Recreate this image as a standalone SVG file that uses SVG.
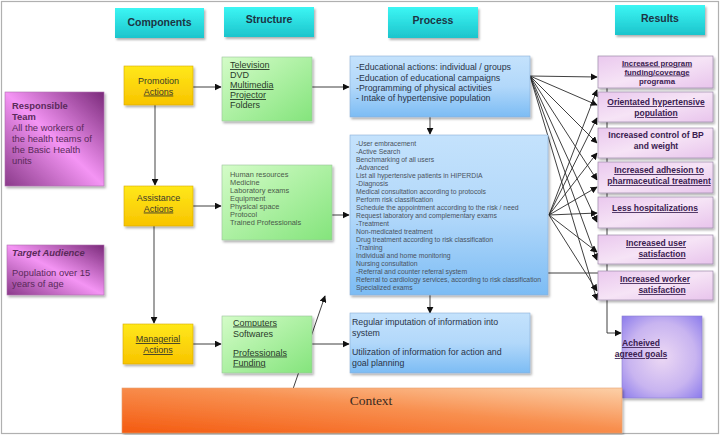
<svg xmlns="http://www.w3.org/2000/svg" width="721" height="435" viewBox="0 0 721 435">
<defs>
<style>
text{font-family:"Liberation Sans",Arial,sans-serif;}
text.ctx{font-family:"Liberation Serif","Times New Roman",serif;font-size:13.5px;fill:#3a2a20;text-anchor:middle;}
.hdr{font-size:10.5px;font-weight:bold;fill:#1c3444;text-anchor:middle;}
.cmp{font-size:9px;fill:#3a3a2a;text-anchor:middle;}
.str{font-size:9px;fill:#2a3a2a;}
.str2{font-size:7.4px;fill:#4a5a4a;}
.prc{font-size:8.8px;fill:#2a3448;}
.prc2{font-size:6.8px;fill:#4a5260;}
.res{font-size:8.5px;font-weight:bold;fill:#3a2050;text-anchor:middle;}
.res1{font-size:7.8px;}
.pink{font-size:9.4px;fill:#5a2a5a;}
.ul{text-decoration:underline;}
.conn{stroke:#2a2a2a;stroke-width:0.9;fill:none;}
.vconn{stroke:#8a8a8a;stroke-width:1.6;fill:none;}
</style>
<marker id="ah" viewBox="0 0 10 10" refX="9" refY="5" markerWidth="7" markerHeight="7" markerUnits="userSpaceOnUse" orient="auto">
<path d="M0,0 L10,5 L0,10 z" fill="#111"/>
</marker>
<filter id="sh" x="-10%" y="-10%" width="125%" height="130%">
<feDropShadow dx="1.5" dy="2" stdDeviation="1.2" flood-color="#000" flood-opacity="0.3"/>
</filter>
<linearGradient id="gCyan" x1="0" y1="0" x2="0" y2="1">
<stop offset="0" stop-color="#3cf6f4"/><stop offset="1" stop-color="#1cc4cc"/>
</linearGradient>
<linearGradient id="gYel" x1="0" y1="0" x2="0" y2="1">
<stop offset="0" stop-color="#ffe81a"/><stop offset="1" stop-color="#f8c400"/>
</linearGradient>
<linearGradient id="gGrn" x1="0" y1="0" x2="1" y2="1">
<stop offset="0" stop-color="#d4fcc8"/><stop offset="1" stop-color="#84e47c"/>
</linearGradient>
<linearGradient id="gBlu" x1="0" y1="0" x2="0" y2="1">
<stop offset="0" stop-color="#c4e2fc"/><stop offset="0.5" stop-color="#b2d8fa"/><stop offset="1" stop-color="#7cbcf4"/>
</linearGradient>
<linearGradient id="gPink" x1="1" y1="0" x2="0" y2="1">
<stop offset="0" stop-color="#7a2a7a"/><stop offset="0.5" stop-color="#f494f4"/><stop offset="1" stop-color="#8a3a8a"/>
</linearGradient>
<linearGradient id="gRes" x1="0" y1="0" x2="1" y2="1">
<stop offset="0" stop-color="#eac8ee"/><stop offset="0.5" stop-color="#f6e4f6"/><stop offset="1" stop-color="#e8c4ec"/>
</linearGradient>
<radialGradient id="gPur" cx="0.5" cy="0.5" r="0.7">
<stop offset="0" stop-color="#ecd8f4"/><stop offset="0.6" stop-color="#c8b4f0"/><stop offset="1" stop-color="#8c7cec"/>
</radialGradient>
<linearGradient id="gOr" x1="0" y1="1" x2="1" y2="0">
<stop offset="0" stop-color="#f45a10"/><stop offset="0.55" stop-color="#f89050"/><stop offset="1" stop-color="#fcd0a8"/>
</linearGradient>
</defs>

<rect x="1.5" y="1.5" width="717" height="432" fill="#fff" stroke="#b0b0b0" stroke-width="1.2"/>

<g id="connectors">
<line class="vconn" x1="155" y1="105" x2="155" y2="185" marker-end="url(#ah)"/>
<line class="vconn" x1="154" y1="226" x2="154" y2="323" marker-end="url(#ah)"/>
<line class="conn" x1="193" y1="87" x2="221" y2="87" marker-end="url(#ah)"/>
<line class="conn" x1="193" y1="206" x2="221" y2="206" marker-end="url(#ah)"/>
<line class="conn" x1="193" y1="344" x2="221" y2="344" marker-end="url(#ah)"/>
<line class="conn" x1="312" y1="87" x2="349" y2="87" marker-end="url(#ah)"/>
<line class="conn" x1="332" y1="215" x2="349" y2="215" marker-end="url(#ah)"/>
<line class="conn" x1="312" y1="344" x2="349" y2="344" marker-end="url(#ah)"/>
<line class="conn" x1="293" y1="389" x2="325" y2="296" marker-end="url(#ah)"/>
<line class="conn" x1="430" y1="117" x2="430" y2="134" marker-end="url(#ah)"/>
<line class="conn" x1="430" y1="295" x2="430" y2="313" marker-end="url(#ah)"/>
<line class="conn" x1="530" y1="76" x2="597" y2="77" marker-end="url(#ah)"/>
<line class="conn" x1="530" y1="76" x2="597" y2="105" marker-end="url(#ah)"/>
<line class="conn" x1="530" y1="76" x2="597" y2="143" marker-end="url(#ah)"/>
<line class="conn" x1="530" y1="76" x2="597" y2="180" marker-end="url(#ah)"/>
<line class="conn" x1="530" y1="76" x2="597" y2="222" marker-end="url(#ah)"/>
<line class="conn" x1="530" y1="76" x2="597" y2="260" marker-end="url(#ah)"/>
<line class="conn" x1="530" y1="76" x2="597" y2="300" marker-end="url(#ah)"/>
<line class="conn" x1="549" y1="215" x2="597" y2="90" marker-end="url(#ah)"/>
<line class="conn" x1="549" y1="215" x2="597" y2="118" marker-end="url(#ah)"/>
<line class="conn" x1="549" y1="215" x2="597" y2="153" marker-end="url(#ah)"/>
<line class="conn" x1="549" y1="215" x2="597" y2="187" marker-end="url(#ah)"/>
<line class="conn" x1="549" y1="215" x2="597" y2="213" marker-end="url(#ah)"/>
<line class="conn" x1="549" y1="215" x2="597" y2="252" marker-end="url(#ah)"/>
<line class="conn" x1="549" y1="215" x2="597" y2="291" marker-end="url(#ah)"/>
<line class="conn" x1="548" y1="273" x2="598" y2="273"/>
<polyline class="conn" points="607,88 607,333 621,333" marker-end="url(#ah)"/>
</g>

<g id="hdr-components"><rect x="115" y="8" width="89" height="30" fill="url(#gCyan)" filter="url(#sh)"/><text class="hdr" x="159.5" y="26">Components</text></g>
<g id="hdr-structure"><rect x="224" y="7" width="90" height="30" fill="url(#gCyan)" filter="url(#sh)"/><text class="hdr" x="269" y="23">Structure</text></g>
<g id="hdr-process"><rect x="388" y="7" width="90" height="31" fill="url(#gCyan)" filter="url(#sh)"/><text class="hdr" x="433" y="24">Process</text></g>
<g id="hdr-results"><rect x="615" y="5" width="90" height="30" fill="url(#gCyan)" filter="url(#sh)"/><text class="hdr" x="660" y="22">Results</text></g>

<g id="responsible-team">
<rect x="5" y="92" width="99" height="94" fill="url(#gPink)" stroke="#b070b0" stroke-width="0.6" filter="url(#sh)"/>
<text class="pink" x="12" y="109" font-weight="bold" fill="#3a1a3a">Responsible</text>
<text class="pink" x="12" y="120" font-weight="bold" fill="#3a1a3a">Team</text>
<text class="pink" x="12" y="131">All the workers of</text>
<text class="pink" x="12" y="142">the health teams of</text>
<text class="pink" x="12" y="153">the Basic Health</text>
<text class="pink" x="12" y="164">units</text>
</g>
<g id="target-audience">
<rect x="7" y="245" width="97" height="50" fill="url(#gPink)" stroke="#b070b0" stroke-width="0.6" filter="url(#sh)"/>
<text class="pink" x="12" y="256" font-weight="bold" font-style="italic" fill="#3a1a3a" font-size="8.8">Target Audience</text>
<text class="pink" x="12" y="276" font-size="8.8">Population over 15</text>
<text class="pink" x="12" y="287" font-size="8.8">years of age</text>
</g>

<g id="promotion">
<rect x="124" y="66" width="69" height="39" fill="url(#gYel)" stroke="#d8a800" stroke-width="0.6" filter="url(#sh)"/>
<text class="cmp" x="158.5" y="84">Promotion</text>
<text class="cmp ul" x="158.5" y="94.5">Actions</text>
</g>
<g id="assistance">
<rect x="124" y="186" width="69" height="40" fill="url(#gYel)" stroke="#d8a800" stroke-width="0.6" filter="url(#sh)"/>
<text class="cmp" x="158.5" y="201">Assistance</text>
<text class="cmp ul" x="158.5" y="211.5">Actions</text>
</g>
<g id="managerial">
<rect x="123" y="324" width="70" height="40" fill="url(#gYel)" stroke="#d8a800" stroke-width="0.6" filter="url(#sh)"/>
<text class="cmp ul" x="158" y="342">Managerial</text>
<text class="cmp ul" x="158" y="353">Actions</text>
</g>

<g id="structure-media">
<rect x="222" y="57" width="90" height="64" fill="url(#gGrn)" stroke="#9cc49c" stroke-width="0.6" filter="url(#sh)"/>
<text class="str ul" x="230" y="68" fill="#c04060"><tspan fill="#2a3a2a">Television</tspan></text>
<text class="str" x="230" y="78">DVD</text>
<text class="str ul" x="230" y="88" fill="#c04060"><tspan fill="#2a3a2a">Multimedia</tspan></text>
<text class="str ul" x="230" y="98" fill="#c04060"><tspan fill="#2a3a2a">Projector</tspan></text>
<text class="str" x="230" y="108">Folders</text>
</g>
<g id="structure-resources">
<rect x="222" y="165" width="110" height="75" fill="url(#gGrn)" stroke="#9cc49c" stroke-width="0.6" filter="url(#sh)"/>
<text class="str2" x="230" y="177">Human resources</text>
<text class="str2" x="230" y="185">Medicine</text>
<text class="str2" x="230" y="193">Laboratory exams</text>
<text class="str2" x="230" y="201">Equipment</text>
<text class="str2" x="230" y="209">Physical space</text>
<text class="str2" x="230" y="217">Protocol</text>
<text class="str2" x="230" y="225">Trained Professionals</text>
</g>
<g id="structure-management">
<rect x="222" y="316" width="90" height="57" fill="url(#gGrn)" stroke="#9cc49c" stroke-width="0.6" filter="url(#sh)"/>
<text class="str ul" x="233" y="325.5" fill="#c04060"><tspan fill="#2a3a2a">Computers</tspan></text>
<text class="str" x="233" y="336.5">Softwares</text>
<text class="str ul" x="233" y="355.5" fill="#c04060"><tspan fill="#2a3a2a">Professionals</tspan></text>
<text class="str ul" x="233" y="365.5" fill="#c04060"><tspan fill="#2a3a2a">Funding</tspan></text>
</g>

<g id="process-promotion">
<rect x="350" y="56" width="180" height="61" fill="url(#gBlu)" stroke="#8ab0d8" stroke-width="0.6" filter="url(#sh)"/>
<text class="prc" x="356" y="70">-Educational actions: individual / groups</text>
<text class="prc" x="356" y="81">-Education of educational campaigns</text>
<text class="prc" x="356" y="91">-Programming of physical activities</text>
<text class="prc" x="356" y="101">- Intake of hypertensive population</text>
</g>
<g id="process-assistance">
<rect x="350" y="135" width="198" height="160" fill="url(#gBlu)" stroke="#8ab0d8" stroke-width="0.6" filter="url(#sh)"/>
<text class="prc2" x="356" y="146">-User embracement</text>
<text class="prc2" x="356" y="154">-Active Search</text>
<text class="prc2" x="356" y="162">Benchmarking of all users</text>
<text class="prc2" x="356" y="170">-Advanced</text>
<text class="prc2" x="356" y="178">List all hypertensive patients  in HIPERDIA</text>
<text class="prc2" x="356" y="186">-Diagnosis</text>
<text class="prc2" x="356" y="194">Medical consultation according to protocols</text>
<text class="prc2" x="356" y="202">Perform risk classification</text>
<text class="prc2" x="356" y="210">Schedule the appointment according to the risk / need</text>
<text class="prc2" x="356" y="218">Request laboratory and complementary exams</text>
<text class="prc2" x="356" y="226">-Treatment</text>
<text class="prc2" x="356" y="234">Non-medicated treatment</text>
<text class="prc2" x="356" y="242">Drug treatment according to risk classification</text>
<text class="prc2" x="356" y="250">-Training</text>
<text class="prc2" x="356" y="258">Individual and home monitoring</text>
<text class="prc2" x="356" y="266">Nursing consultation</text>
<text class="prc2" x="356" y="274">-Referral and counter referral system</text>
<text class="prc2" x="356" y="282">Referral to cardiology services, according to risk classification</text>
<text class="prc2" x="356" y="290">Specialized exams</text>
</g>
<g id="process-management">
<rect x="350" y="313" width="180" height="60" fill="url(#gBlu)" stroke="#8ab0d8" stroke-width="0.6" filter="url(#sh)"/>
<text class="prc" x="352" y="325">Regular imputation of information into</text>
<text class="prc" x="352" y="336">system</text>
<text class="prc" x="352" y="355">Utilization of information for action and</text>
<text class="prc" x="352" y="366">goal planning</text>
</g>

<g id="result-1">
<rect x="598" y="56" width="115" height="32" fill="url(#gRes)" stroke="#9a8aa8" stroke-width="0.7" filter="url(#sh)"/>
<text class="res res1 ul" x="657" y="65.5" fill="#d04a70"><tspan fill="#3a2050">Increased program</tspan></text>
<text class="res res1 ul" x="657" y="74.5" fill="#d04a70"><tspan fill="#3a2050">funding/coverage</tspan></text>
<text class="res res1" x="657" y="84">programa</text>
</g>
<g id="result-2">
<rect x="598" y="92" width="115" height="30" fill="url(#gRes)" stroke="#9a8aa8" stroke-width="0.7" filter="url(#sh)"/>
<text class="res ul" x="656" y="105" fill="#d04a70"><tspan fill="#3a2050">Orientated hypertensive</tspan></text>
<text class="res ul" x="656" y="116" fill="#d04a70"><tspan fill="#3a2050">population</tspan></text>
</g>
<g id="result-3">
<rect x="598" y="128" width="115" height="30" fill="url(#gRes)" stroke="#9a8aa8" stroke-width="0.7" filter="url(#sh)"/>
<text class="res" x="656" y="138">Increased control of BP</text>
<text class="res" x="656" y="149">and weight</text>
</g>
<g id="result-4">
<rect x="598" y="162" width="115" height="31" fill="url(#gRes)" stroke="#9a8aa8" stroke-width="0.7" filter="url(#sh)"/>
<text class="res ul" x="659" y="173" fill="#d04a70"><tspan fill="#3a2050">Increased adhesion to</tspan></text>
<text class="res ul" x="659" y="184" fill="#d04a70"><tspan fill="#3a2050">pharmaceutical treatment</tspan></text>
</g>
<g id="result-5">
<rect x="598" y="197" width="115" height="31" fill="url(#gRes)" stroke="#9a8aa8" stroke-width="0.7" filter="url(#sh)"/>
<text class="res ul" x="655" y="211" fill="#d04a70"><tspan fill="#3a2050">Less hospitalizations</tspan></text>
</g>
<g id="result-6">
<rect x="598" y="235" width="115" height="29" fill="url(#gRes)" stroke="#9a8aa8" stroke-width="0.7" filter="url(#sh)"/>
<text class="res ul" x="656" y="246" fill="#d04a70"><tspan fill="#3a2050">Increased user</tspan></text>
<text class="res ul" x="662" y="257" fill="#d04a70"><tspan fill="#3a2050">satisfaction</tspan></text>
</g>
<g id="result-7">
<rect x="598" y="271" width="115" height="29" fill="url(#gRes)" stroke="#9a8aa8" stroke-width="0.7" filter="url(#sh)"/>
<text class="res ul" x="655" y="282" fill="#d04a70"><tspan fill="#3a2050">Increased worker</tspan></text>
<text class="res ul" x="662" y="293" fill="#d04a70"><tspan fill="#3a2050">satisfaction</tspan></text>
</g>
<g id="achieved-goals">
<rect x="622" y="316" width="80" height="82" fill="url(#gPur)" stroke="#8c80d0" stroke-width="0.6" filter="url(#sh)"/>
<text class="res ul" x="641" y="346" text-anchor="start" font-size="9" fill="#d04a70"><tspan fill="#3a2050">Acheived</tspan></text>
<text class="res ul" x="641" y="357" text-anchor="start" font-size="9" fill="#d04a70"><tspan fill="#3a2050">agreed goals</tspan></text>
</g>

<g id="context">
<rect x="122" y="388" width="500" height="45" fill="url(#gOr)" stroke="#e8a070" stroke-width="0.6" filter="url(#sh)"/>
<text class="ctx" x="371" y="405">Context</text>
</g>
</svg>
